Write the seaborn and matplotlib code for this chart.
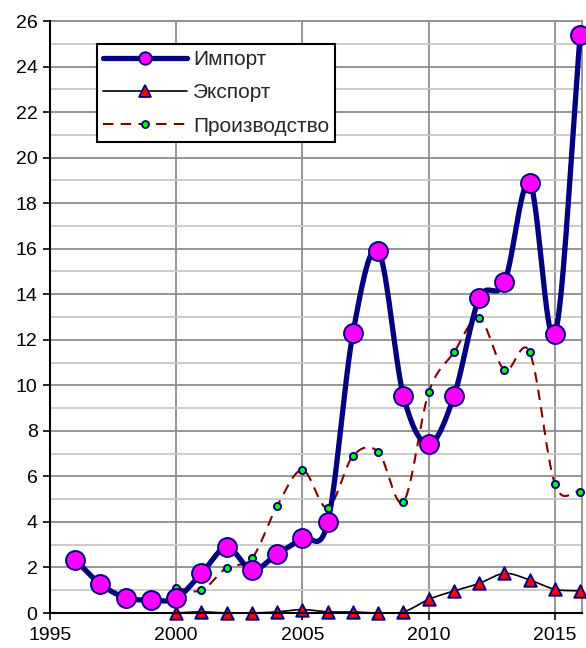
import numpy as np
import pandas as pd
import matplotlib
matplotlib.use("Agg")
import matplotlib.pyplot as plt
from matplotlib.lines import Line2D
import seaborn as sns

years_import = list(range(1996, 2017))
import_vals = [2.33, 1.27, 0.67, 0.57, 0.64, 1.74, 2.88, 1.89, 2.59, 3.28, 3.98,
               12.31, 15.91, 9.53, 7.42, 9.53, 13.82, 14.52, 18.9, 12.25, 25.4]

years_other = list(range(2000, 2017))
export_vals = [0.0, 0.05, 0.0, 0.0, 0.05, 0.15, 0.05, 0.05, 0.0, 0.05,
               0.6, 0.97, 1.3, 1.74, 1.45, 1.04, 0.97]
prod_vals = [1.1, 1.0, 1.99, 2.4, 4.71, 6.28, 4.62, 6.9, 7.08, 4.89,
             9.69, 11.45, 12.94, 10.67, 11.45, 5.66, 5.33]

labels = ["Импорт", "Экспорт", "Производство"]


def smooth(x, y, n=30):
    """Catmull-Rom spline through the points (Excel-like smoothed line)."""
    x = np.asarray(x, float)
    y = np.asarray(y, float)
    px = np.concatenate([[2 * x[0] - x[1]], x, [2 * x[-1] - x[-2]]])
    py = np.concatenate([[2 * y[0] - y[1]], y, [2 * y[-1] - y[-2]]])
    xs, ys = [], []
    t = np.linspace(0, 1, n, endpoint=False)
    for i in range(1, len(px) - 2):
        p0, p1, p2, p3 = py[i - 1], py[i], py[i + 1], py[i + 2]
        q0, q1, q2, q3 = px[i - 1], px[i], px[i + 1], px[i + 2]
        ys.append(0.5 * ((2 * p1) + (-p0 + p2) * t + (2 * p0 - 5 * p1 + 4 * p2 - p3) * t ** 2
                         + (-p0 + 3 * p1 - 3 * p2 + p3) * t ** 3))
        xs.append(0.5 * ((2 * q1) + (-q0 + q2) * t + (2 * q0 - 5 * q1 + 4 * q2 - q3) * t ** 2
                         + (-q0 + 3 * q1 - 3 * q2 + q3) * t ** 3))
    xs.append([x[-1]])
    ys.append([y[-1]])
    return np.concatenate(xs), np.concatenate(ys)


sns.set_theme(style="white")
plt.rcParams["font.family"] = ["Liberation Sans", "DejaVu Sans"]

fig = plt.figure(figsize=(5.86, 6.48), dpi=100)
ax = fig.add_axes([50 / 586, 1 - 613 / 648, 532 / 586, 592 / 648])

# grid
ax.set_xlim(1995, 2016.07)
ax.set_ylim(0, 26)
ax.set_yticks(np.arange(0, 27, 2))
ax.set_yticks(np.arange(1, 26, 2), minor=True)
ax.set_xticks([1995, 2000, 2005, 2010, 2015])
ax.yaxis.grid(True, which="major", color="#8c8c8c", lw=1.3, zorder=0)
ax.yaxis.grid(True, which="minor", color="#c8c8c8", lw=1.3, zorder=0)
ax.xaxis.grid(True, which="major", color="#8c8c8c", lw=1.3, zorder=0)
ax.set_axisbelow(True)

# curves
sx, sy = smooth(years_other, prod_vals)
sns.lineplot(x=sx, y=sy, ax=ax, sort=False, color="#800000", lw=1.5,
             zorder=2).lines[-1].set_dashes([5, 3.5])
sx, sy = smooth(years_other, export_vals)
sns.lineplot(x=sx, y=sy, ax=ax, sort=False, color="black", lw=1.2, zorder=3)
sx, sy = smooth(years_import, import_vals)
sns.lineplot(x=sx, y=sy, ax=ax, sort=False, color="#000080", lw=3.8, zorder=4)

# markers
df_imp = pd.DataFrame({"year": years_import, "v": import_vals})
df_oth = pd.DataFrame({"year": years_other, "e": export_vals, "p": prod_vals})
sns.scatterplot(data=df_oth, x="year", y="p", ax=ax, marker="o", s=26,
                color="#00ff00", edgecolor="#000080", linewidth=1.4, zorder=5, clip_on=False)
sns.scatterplot(data=df_oth, x="year", y="e", ax=ax, marker="^", s=80,
                color="#ff0000", edgecolor="#000080", linewidth=1.4, zorder=6, clip_on=False)
sns.scatterplot(data=df_imp, x="year", y="v", ax=ax, marker="o", s=185,
                color="#ff00ff", edgecolor="#000080", linewidth=1.4, zorder=7, clip_on=False)

ax.set_xlabel("")
ax.set_ylabel("")

for s in ["top", "right"]:
    ax.spines[s].set_color("#8c8c8c")
    ax.spines[s].set_linewidth(1.3)
for s in ["left", "bottom"]:
    ax.spines[s].set_color("black")
    ax.spines[s].set_linewidth(1.5)
ax.spines["left"].set_zorder(8)
ax.spines["bottom"].set_zorder(8)

ax.tick_params(axis="both", which="major", labelsize=14, colors="black",
               length=5, width=1.2, direction="out", left=True, bottom=True)
ax.tick_params(axis="y", which="minor", left=False)
ax.tick_params(axis="x", pad=5)
ax.tick_params(axis="y", pad=4)

handles = [
    Line2D([], [], color="#000080", lw=3.8, marker="o", markersize=9,
           markerfacecolor="#ff00ff", markeredgecolor="#000080", markeredgewidth=1.3),
    Line2D([], [], color="black", lw=1.2, marker="^", markersize=8,
           markerfacecolor="#ff0000", markeredgecolor="#000080", markeredgewidth=1.3),
    Line2D([], [], color="#800000", lw=1.5, ls=(0, (5, 3.5)), marker="o", markersize=5,
           markerfacecolor="#00ff00", markeredgecolor="#000080", markeredgewidth=1.3),
]
leg = fig.legend(handles, labels, loc="upper left",
                 bbox_to_anchor=(97 / 586, 1 - 44 / 648), fontsize=15,
                 frameon=True, fancybox=False, edgecolor="black", framealpha=1,
                 handlelength=4.0, handletextpad=0.3, borderpad=0.3,
                 labelspacing=0.68, borderaxespad=0)
leg.get_frame().set_linewidth(1.5)

fig.savefig("out.png", dpi=100)
